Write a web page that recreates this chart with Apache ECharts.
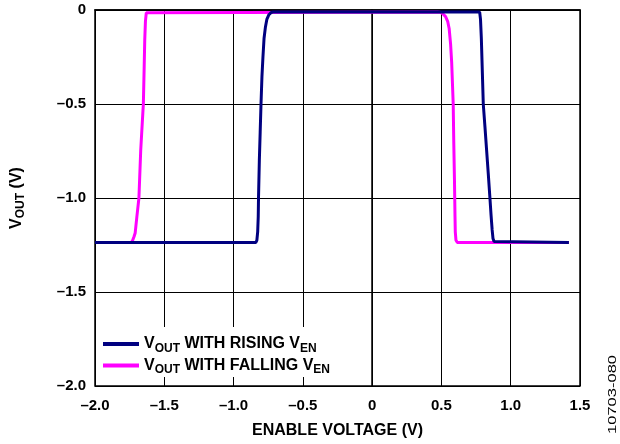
<!DOCTYPE html>
<html>
<head>
<meta charset="utf-8">
<script src="https://cdn.jsdelivr.net/npm/echarts@6/dist/echarts.min.js"></script>
<style>html,body{margin:0;padding:0;background:#fff;}#c{width:620px;height:444px;}</style>
</head>
<body>
<div id="c"></div>
<script>
// Data
const risingLabel = 'rising';
const fallingLabel = 'falling';
const risingData = [
  [-2.0,-1.237],[-0.84,-1.237],[-0.832,-1.225],[-0.826,-1.18],[-0.822,-1.1],[-0.82,-1.0],
  [-0.814,-0.8],[-0.808,-0.65],[-0.802,-0.5],[-0.795,-0.35],[-0.788,-0.25],[-0.78,-0.15],
  [-0.77,-0.09],[-0.76,-0.05],[-0.745,-0.025],[-0.73,-0.014],[-0.715,-0.011],
  [0.776,-0.011],[0.782,-0.05],[0.788,-0.15],[0.794,-0.3],[0.802,-0.5],[0.814,-0.62],
  [0.826,-0.745],[0.838,-0.87],[0.85,-1.0],[0.858,-1.09],[0.866,-1.17],[0.872,-1.215],
  [0.88,-1.232],[0.89,-1.237],[1.42,-1.237]
];
const fallingData = [
  [-2.0,-1.237],[-1.738,-1.237],[-1.728,-1.225],[-1.718,-1.205],[-1.71,-1.186],[-1.698,-1.1],
  [-1.683,-1.0],[-1.67,-0.745],[-1.655,-0.55],[-1.651,-0.5],[-1.645,-0.3],[-1.641,-0.16],
  [-1.636,-0.06],[-1.63,-0.015],[-1.625,-0.011],
  [0.47,-0.011],[0.49,-0.012],[0.51,-0.02],[0.53,-0.035],[0.545,-0.06],[0.556,-0.1],
  [0.566,-0.18],[0.574,-0.28],[0.58,-0.4],[0.585,-0.5],[0.589,-0.7],[0.594,-0.9],
  [0.596,-1.0],[0.598,-1.1],[0.6,-1.18],[0.605,-1.225],[0.615,-1.237],[1.42,-1.237]
];
const xTicks = [-2.0,-1.5,-1.0,-0.5,0,0.5,1.0,1.5];
const yTicks = [0,-0.5,-1.0,-1.5,-2.0];

const FONT = '"Liberation Sans", Arial, sans-serif';
const FS = 15;
const FN = 16;
function fmt(v){
  const s = v === 0 ? '0' : v.toFixed(1);
  return s.replace('-', '\u2013');
}
const chart = echarts.init(document.getElementById('c'), null, {renderer:'canvas'});
const nStyle = {fontFamily:FONT, fontWeight:'bold', fontSize:FN, color:'#000', lineHeight:21, verticalAlign:'middle'};
const sStyle = {fontFamily:FONT, fontWeight:'bold', fontSize:12, color:'#000', lineHeight:21, verticalAlign:'bottom'};
chart.setOption({
  animation:false,
  backgroundColor:'#fff',
  grid:{left:95, right:40, top:10, bottom:58, show:true, borderColor:'#000', borderWidth:1.5,
        containLabel:false, outerBoundsMode:'none'},
  xAxis:{
    type:'value', min:-2.0, max:1.5, interval:0.5,
    name:'ENABLE VOLTAGE (V)', nameLocation:'middle', nameGap:37,
    nameTextStyle:{fontFamily:FONT, fontWeight:'bold', fontSize:FN, color:'#000'},
    axisLine:{show:true, lineStyle:{color:'#000', width:1.5}},
    axisTick:{show:false},
    axisLabel:{formatter:v=>fmt(v), fontFamily:FONT, fontWeight:'bold', fontSize:FS, color:'#000', margin:12},
    splitLine:{show:true, lineStyle:{color:'#000', width:1}}
  },
  yAxis:{
    type:'value', min:-2.0, max:0, interval:0.5,
    name:'{n|V}{s|OUT}{n| (V)}', nameLocation:'middle', nameGap:68,
    nameTextStyle:{rich:{n:nStyle, s:sStyle}},
    axisLine:{show:true, lineStyle:{color:'#000', width:1.5}},
    axisTick:{show:false},
    axisLabel:{formatter:v=>fmt(v), fontFamily:FONT, fontWeight:'bold', fontSize:FS, color:'#000', margin:9},
    splitLine:{show:true, lineStyle:{color:'#000', width:1}}
  },
  legend:{
    left:96, top:327, orient:'vertical', backgroundColor:'#fff',
    padding:[9,8,1,7], itemGap:3, itemWidth:36, itemHeight:4, icon:'rect',
    data:[risingLabel, fallingLabel],
    formatter:function(name){
      return name === risingLabel ? '{n|V}{s|OUT}{n| WITH RISING V}{s|EN}' : '{n|V}{s|OUT}{n| WITH FALLING V}{s|EN}';
    },
    textStyle:{rich:{n:nStyle, s:sStyle}}
  },
  graphic:[{
    type:'text', left:608, top:355, rotation:Math.PI/2, scaleX:1.65,
    style:{text:'10703-080', font:'10px '+FONT, fill:'#000'}
  }],
  series:[
    {name:fallingLabel, type:'line', data:fallingData, showSymbol:false, symbol:'none',
     lineStyle:{color:'#ff00ff', width:3}, itemStyle:{color:'#ff00ff'}, z:2},
    {name:risingLabel, type:'line', data:risingData, showSymbol:false, symbol:'none',
     lineStyle:{color:'#000080', width:3}, itemStyle:{color:'#000080'}, z:3}
  ]
});
</script>
</body>
</html>
